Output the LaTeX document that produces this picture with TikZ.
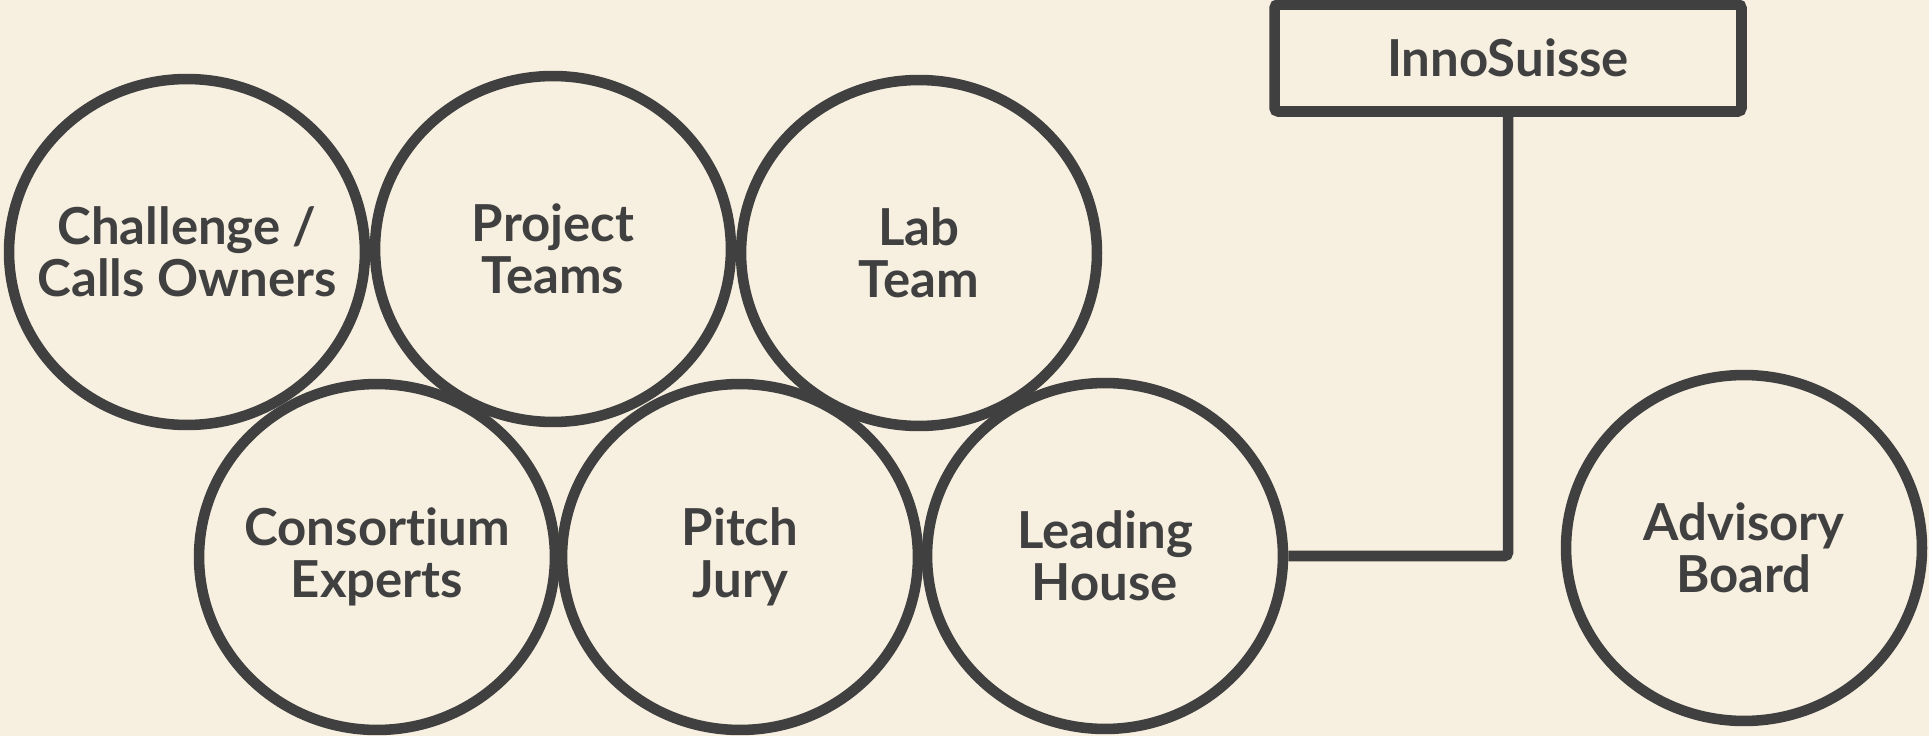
\documentclass[tikz,border=0pt]{standalone}
\usepackage{fontspec}
\setmainfont{Lato}[Ligatures=CommonOff]
\usetikzlibrary{shapes.geometric}
\definecolor{paper}{RGB}{247,240,224}
\definecolor{ink}{RGB}{64,64,64}

\begin{document}
\begin{tikzpicture}[x=0.02cm,y=-0.02cm,
    label font/.style={text=ink,font=\bfseries\fontsize{29}{29.5}\selectfont},
    group/.style={ellipse,draw=ink,line width=6pt,minimum width=7.12cm,
        minimum height=6.92cm,inner sep=-1.5cm,align=center,label font},
    office/.style={rectangle,draw=ink,line width=6pt,rounded corners=2pt,
        minimum width=9.34cm,minimum height=2.14cm,inner sep=0pt,label font}]
    \fill[paper] (0,0) rectangle (1929,736);
    \useasboundingbox (0,0) rectangle (1929,736);
    % top row
    \node[group] (owners) at (187,252) {Challenge /\\Calls Owners};
    \node[group] (teams) at (553,249) {Project\\Teams};
    \node[group] (lab) at (919,253) {Lab\\Team};
    % bottom row
    \node[group] (experts) at (377,557) {Consortium\\Experts};
    \node[group] (jury) at (740,557) {Pitch\\Jury};
    \node[group] (house) at (1105,556) {Leading\\House};
    \node[group] (board) at (1744,548) {Advisory\\Board};
    % funding body
    \node[office] (inno) at (1508,58) {InnoSuisse};
    \draw[ink,line width=6pt,rounded corners=2pt] (house.east) -| (inno.south);
\end{tikzpicture}
\end{document}
